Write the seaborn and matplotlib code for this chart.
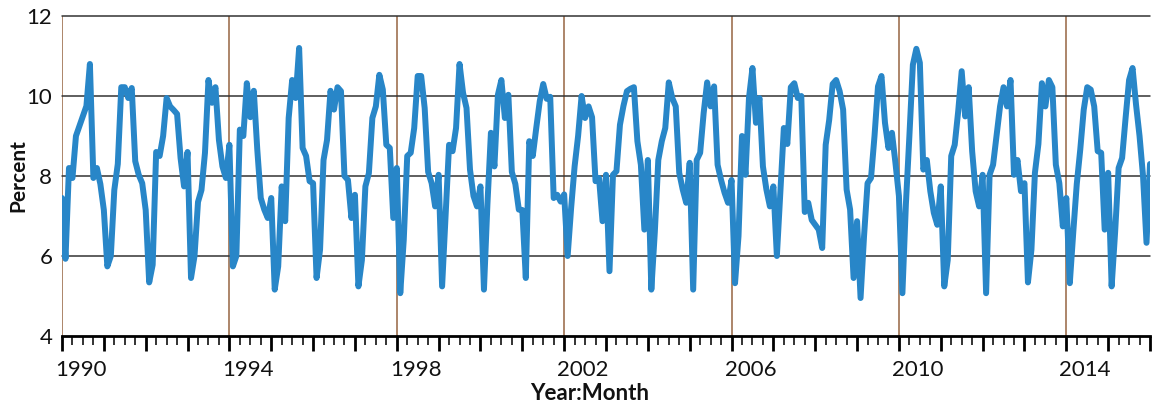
import numpy as np
import pandas as pd
import matplotlib
matplotlib.use("Agg")
import matplotlib.pyplot as plt
import matplotlib.transforms as mtransforms
import seaborn as sns
from matplotlib.ticker import FixedLocator

# ---- data: monthly values (Jan..Dec) ----
y1990 = [7.45, 5.93, 8.2, 7.95, 9.0, 9.25, 9.5, 9.75, 10.8, 7.95, 8.2, 7.8]
y1991 = [7.15, 5.74, 6.0, 7.65, 8.3, 10.22, 10.22, 9.95, 10.2, 8.37, 8.03, 7.82]
y1992 = [7.15, 5.34, 5.78, 8.6, 8.5, 9.0, 9.95, 9.74, 9.65, 9.55, 8.45, 7.74]
y1993 = [8.6, 5.45, 6.0, 7.35, 7.65, 8.58, 10.4, 9.83, 10.22, 8.9, 8.24, 7.95]
y1994 = [8.78, 5.74, 6.0, 9.16, 9.0, 10.32, 9.47, 10.13, 8.66, 7.45, 7.16, 6.95]
y1995 = [7.45, 5.16, 5.74, 7.74, 6.87, 9.45, 10.4, 9.95, 11.2, 8.7, 8.5, 7.87]
y1996 = [7.82, 5.45, 6.16, 8.4, 8.9, 10.13, 9.66, 10.22, 10.12, 8.0, 7.9, 6.95]
y1997 = [7.53, 5.24, 5.9, 7.74, 8.07, 9.45, 9.74, 10.53, 10.16, 8.78, 8.7, 6.95]
y1998 = [8.2, 5.07, 6.4, 8.5, 8.58, 9.2, 10.5, 10.5, 9.7, 8.1, 7.82, 7.24]
y1999 = [8.03, 5.24, 7.0, 8.78, 8.62, 9.2, 10.8, 10.08, 9.7, 8.16, 7.5, 7.24]
y2000 = [7.74, 5.16, 7.3, 9.08, 8.24, 10.03, 10.4, 9.45, 10.03, 8.1, 7.8, 7.16]
y2001 = [7.15, 5.45, 8.87, 8.5, 9.2, 9.87, 10.3, 9.93, 9.98, 7.45, 7.53, 7.36]
y2002 = [7.54, 6.0, 7.2, 8.24, 9.0, 10.0, 9.45, 9.74, 9.47, 7.87, 7.95, 6.87]
y2003 = [8.03, 5.62, 8.03, 8.12, 9.28, 9.75, 10.12, 10.18, 10.22, 8.87, 8.28, 6.66]
y2004 = [8.4, 5.16, 6.6, 8.4, 8.87, 9.2, 10.34, 9.95, 9.74, 8.08, 7.66, 7.33]
y2005 = [8.33, 5.16, 8.4, 8.58, 9.57, 10.34, 9.74, 10.24, 8.28, 7.9, 7.58, 7.33]
y2006 = [7.9, 5.32, 6.5, 9.0, 8.03, 9.95, 10.7, 9.33, 9.95, 8.24, 7.66, 7.24]
y2007 = [7.74, 6.0, 7.6, 9.2, 8.8, 10.22, 10.32, 9.95, 10.0, 7.1, 7.33, 6.9]
y2008 = [6.78, 6.66, 6.2, 8.78, 9.4, 10.3, 10.4, 10.12, 9.66, 7.66, 7.16, 5.45]
y2009 = [6.87, 4.95, 6.5, 7.82, 7.95, 9.0, 10.24, 10.5, 9.33, 8.7, 9.08, 8.33]
y2010 = [7.5, 5.07, 7.3, 9.0, 10.78, 11.18, 10.83, 8.16, 8.4, 7.62, 7.08, 6.78]
y2011 = [7.74, 5.24, 5.9, 8.5, 8.78, 9.62, 10.62, 9.49, 10.22, 8.62, 7.62, 7.24]
y2012 = [8.03, 5.07, 8.03, 8.28, 9.0, 9.74, 10.22, 9.74, 10.4, 8.03, 8.4, 7.62]
y2013 = [7.82, 5.34, 6.16, 8.08, 8.8, 10.32, 9.74, 10.4, 10.22, 8.28, 7.82, 6.74]
y2014 = [7.45, 5.32, 6.6, 7.8, 8.66, 9.66, 10.22, 10.16, 9.74, 8.62, 8.58, 6.66]
y2015 = [8.08, 5.24, 6.6, 8.2, 8.45, 9.45, 10.4, 10.7, 9.78, 9.0, 8.0, 6.33]
y2016 = [8.3]

start_year = 1990
year_ticks = list(range(1990, 2017))
label_years = [1990, 1994, 1998, 2002, 2006, 2010, 2014]
y_ticks = [4, 6, 8, 10, 12]

values = (y1990 + y1991 + y1992 + y1993 + y1994 + y1995 + y1996 + y1997 +
          y1998 + y1999 + y2000 + y2001 + y2002 + y2003 + y2004 + y2005 +
          y2006 + y2007 + y2008 + y2009 + y2010 + y2011 + y2012 + y2013 +
          y2014 + y2015 + y2016)
t = start_year + np.arange(len(values)) / 12.0
df = pd.DataFrame({"t": t, "v": values})

# ---- style ----
sns.set_theme(style="white")
plt.rcParams["font.family"] = ["Lato", "DejaVu Sans"]

W, H = 1156, 405
fig = plt.figure(figsize=(W / 100, H / 100), dpi=100)
ax = fig.add_axes([62 / W, 69 / H, 1088 / W, 320 / H])

ax.set_xlim(1990, 2016)
ax.set_ylim(4, 12)

for yr in label_years:
    ax.axvline(yr, color="#a67c5e", lw=1.3, zorder=1)
for yv in y_ticks[1:]:
    ax.axhline(yv, color="#333333", lw=1.1, zorder=1, clip_on=False)

sns.lineplot(data=df, x="t", y="v", ax=ax, color="#2886c8", lw=4.3,
             estimator=None, sort=False, zorder=3)

for s in ["left", "right", "top"]:
    ax.spines[s].set_visible(False)
ax.spines["bottom"].set_color("black")
ax.spines["bottom"].set_linewidth(2)

ax.xaxis.set_major_locator(FixedLocator(year_ticks))
ax.set_xticklabels([str(y) if y in label_years else "" for y in year_ticks])
minors = [y + q / 4 for y in range(1990, 2016) for q in (1, 2, 3)]
ax.xaxis.set_minor_locator(FixedLocator(minors))
ax.tick_params(axis="x", which="major", bottom=True, length=11, width=2,
               color="black", labelsize=16, pad=6.5, direction="out",
               labelcolor="#111111")
ax.tick_params(axis="x", which="minor", bottom=True, length=6.5, width=1.4,
               color="#333333", direction="out")
shift = mtransforms.ScaledTranslation(-7 / 100, 0, fig.dpi_scale_trans)
for lab in ax.get_xticklabels():
    lab.set_horizontalalignment("left")
    lab.set_transform(lab.get_transform() + shift)

ax.set_yticks(y_ticks)
ax.set_yticklabels([str(v) for v in y_ticks])
ax.tick_params(axis="y", length=0, labelsize=16, pad=7, labelcolor="#111111")

ax.set_xlabel("Year:Month", fontsize=16, fontweight="bold", color="#111111")
ax.xaxis.set_label_coords(0.485, -0.147)
ax.set_ylabel("Percent", fontsize=15, fontweight="bold", color="#111111")
ax.yaxis.set_label_coords(-0.031, 0.5)

fig.savefig("out.png", dpi=100)
